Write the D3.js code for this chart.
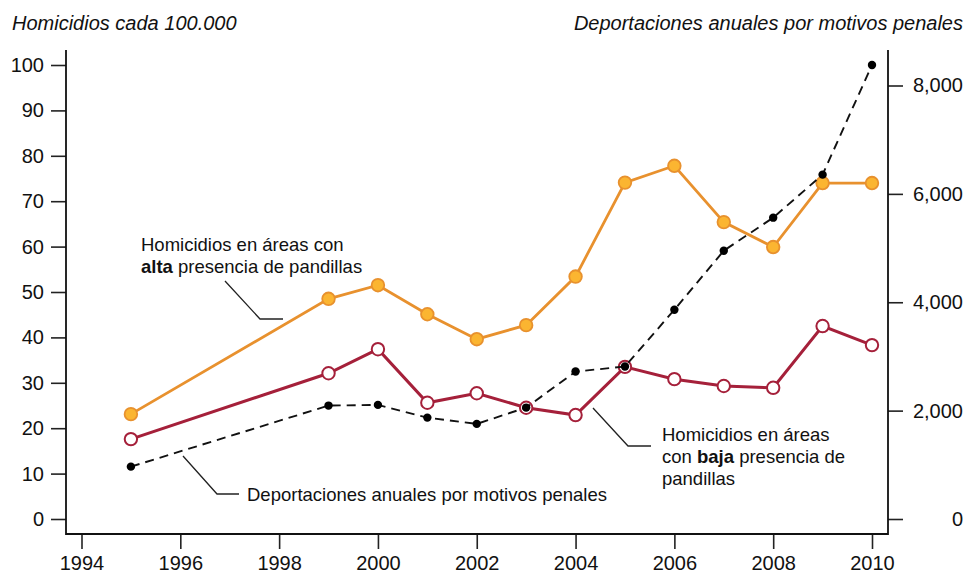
<!DOCTYPE html>
<html>
<head>
<meta charset="utf-8">
<script src="https://cdn.jsdelivr.net/npm/d3@7"></script>
<style>
  body { margin: 0; background: #fff; }
  svg { font-family: "Liberation Sans", Arial, sans-serif; }
</style>
</head>
<body>
<svg id="chart" width="968" height="574"></svg>
<script>
// values
const years = [1995, 1999, 2000, 2001, 2002, 2003, 2004, 2005, 2006, 2007, 2008, 2009, 2010];
const altaPresencia = [23.1, 48.5, 51.5, 45.1, 39.6, 42.7, 53.4, 74.1, 77.8, 65.4, 59.9, 74.0, 74.0];
const bajaPresencia = [17.6, 32.1, 37.4, 25.6, 27.7, 24.5, 22.9, 33.5, 30.8, 29.3, 28.9, 42.5, 38.3];
const deportaciones = [966, 2093, 2106, 1871, 1755, 2056, 2721, 2813, 3861, 4951, 5561, 6355, 8378];

const xTicks = [1994, 1996, 1998, 2000, 2002, 2004, 2006, 2008, 2010];
const leftTicks = [0, 10, 20, 30, 40, 50, 60, 70, 80, 90, 100];
const rightTicks = [0, 2000, 4000, 6000, 8000];

const svg = d3.select("#chart");

const x = d3.scaleLinear().domain([1994, 2010]).range([81.5, 872]);
const yL = d3.scaleLinear().domain([0, 100]).range([519, 65]);
const yR = d3.scaleLinear().domain([0, 8000]).range([519, 85.5]);

const frameL = 66, frameR = 888, frameT = 50, frameB = 534;

// axes
const gL = svg.append("g")
  .attr("transform", `translate(${frameL},0)`)
  .call(d3.axisLeft(yL).tickValues(leftTicks).tickSize(15).tickPadding(7));
const gR = svg.append("g")
  .attr("transform", `translate(${frameR},0)`)
  .call(d3.axisRight(yR).tickValues(rightTicks).tickSize(15).tickFormat(d3.format(",")));
const gX = svg.append("g")
  .attr("transform", `translate(0,${frameB})`)
  .call(d3.axisBottom(x).tickValues(xTicks).tickSize(15).tickPadding(7).tickFormat(d3.format("d")));

[gL, gR, gX].forEach(g => {
  g.select(".domain").remove();
  g.selectAll(".tick line").attr("stroke", "#222").attr("stroke-width", 1.6);
  g.selectAll(".tick text").attr("fill", "#111").attr("font-size", 20)
    .attr("font-family", "'Liberation Sans', Arial, sans-serif");
});
gR.selectAll(".tick text").attr("text-anchor", "end").attr("x", 963 - frameR);
gX.selectAll(".tick text").attr("dy", "0.68em");

// frame
svg.append("path")
  .attr("d", `M${frameL},${frameT}V${frameB}H${frameR}V${frameT}`)
  .attr("fill", "none").attr("stroke", "#111").attr("stroke-width", 1.8);

// titles
svg.append("text").attr("x", 12).attr("y", 30)
  .attr("font-size", 20).attr("font-style", "italic").attr("fill", "#111")
  .text("Homicidios cada 100.000");
svg.append("text").attr("x", 963).attr("y", 30)
  .attr("font-size", 20).attr("font-style", "italic").attr("fill", "#111")
  .attr("text-anchor", "end")
  .text("Deportaciones anuales por motivos penales");

// series
const orange = "#e8912e", orangeFill = "#fbb531", red = "#a5203a";

const lineL = d3.line().x((d, i) => x(years[i])).y(d => yL(d));
const lineR = d3.line().x((d, i) => x(years[i])).y(d => yR(d));

svg.append("path").datum(altaPresencia)
  .attr("d", lineL).attr("fill", "none")
  .attr("stroke", orange).attr("stroke-width", 2.8);
svg.append("g").selectAll("circle").data(altaPresencia).join("circle")
  .attr("cx", (d, i) => x(years[i])).attr("cy", d => yL(d)).attr("r", 6.3)
  .attr("fill", orangeFill).attr("stroke", orange).attr("stroke-width", 1.8);

svg.append("path").datum(bajaPresencia)
  .attr("d", lineL).attr("fill", "none")
  .attr("stroke", red).attr("stroke-width", 3);
svg.append("g").selectAll("circle").data(bajaPresencia).join("circle")
  .attr("cx", (d, i) => x(years[i])).attr("cy", d => yL(d)).attr("r", 6.2)
  .attr("fill", "#fff").attr("stroke", red).attr("stroke-width", 2);

svg.append("path").datum(deportaciones)
  .attr("d", lineR).attr("fill", "none")
  .attr("stroke", "#111").attr("stroke-width", 1.9)
  .attr("stroke-dasharray", "9,6");
svg.append("g").selectAll("circle").data(deportaciones).join("circle")
  .attr("cx", (d, i) => x(years[i])).attr("cy", d => yR(d)).attr("r", 4.2)
  .attr("fill", "#000");

// annotations
function leader(pts) {
  svg.append("path").attr("d", d3.line()(pts))
    .attr("fill", "none").attr("stroke", "#222").attr("stroke-width", 1.3);
}
function label(xp, y0, lines) {
  const t = svg.append("text").attr("font-size", 18.5).attr("fill", "#111");
  lines.forEach((parts, i) => {
    parts.forEach((p, j) => {
      const s = t.append("tspan").text(p.t);
      if (j === 0) s.attr("x", xp).attr("y", y0 + i * 22);
      if (p.b) s.attr("font-weight", "bold");
    });
  });
}

leader([[225, 281], [260, 319], [283, 319]]);
label(141, 251, [
  [{ t: "Homicidios en áreas con" }],
  [{ t: "alta", b: true }, { t: " presencia de pandillas" }]
]);

leader([[593, 408], [628, 446], [651, 446]]);
label(662, 441, [
  [{ t: "Homicidios en áreas" }],
  [{ t: "con " }, { t: "baja", b: true }, { t: " presencia de" }],
  [{ t: "pandillas" }]
]);

leader([[183, 456], [217, 494], [239, 494]]);
label(247, 501, [
  [{ t: "Deportaciones anuales por motivos penales" }]
]);
</script>
</body>
</html>
